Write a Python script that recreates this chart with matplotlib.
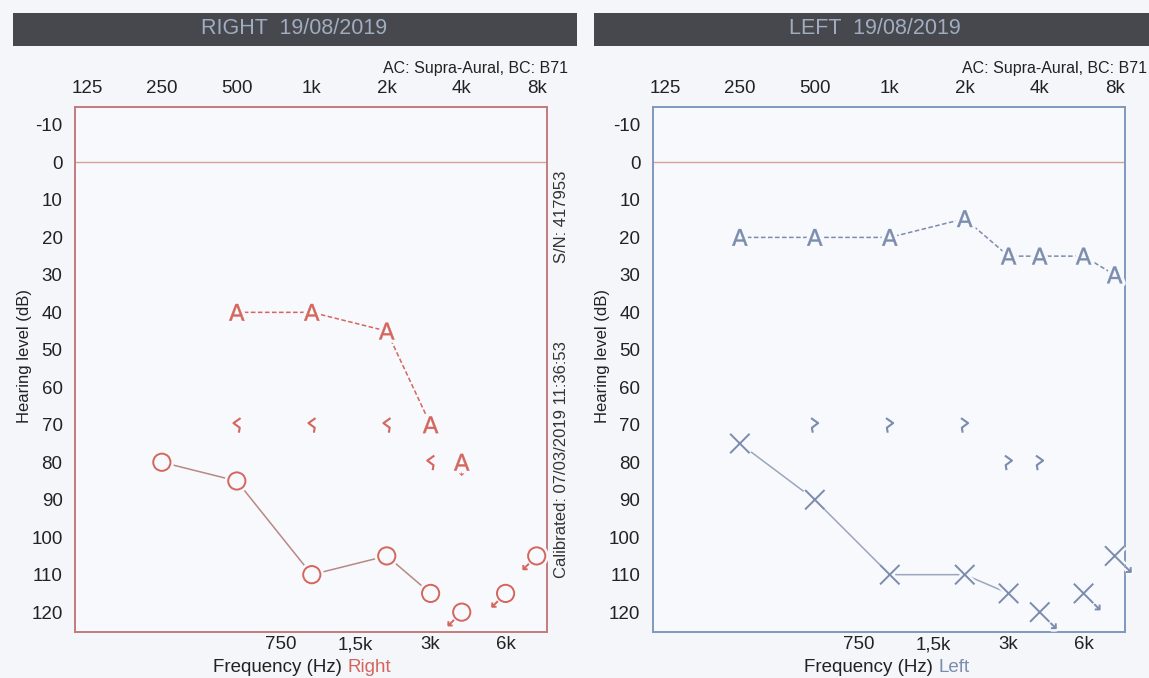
import numpy as np
import matplotlib
matplotlib.use("Agg")
import matplotlib.pyplot as plt
from matplotlib.path import Path
from matplotlib.markers import MarkerStyle
from matplotlib.patches import Rectangle
from matplotlib.textpath import TextPath
from matplotlib.font_manager import FontProperties
import matplotlib.patheffects as pe

plt.rcParams['font.family'] = ['Liberation Sans', 'DejaVu Sans']
plt.rcParams['axes.unicode_minus'] = False

# ---------------- data ----------------
top_ticks = [125, 250, 500, 1000, 2000, 4000, 8000]
top_labels = ["125", "250", "500", "1k", "2k", "4k", "8k"]
bottom_ticks = [750, 1500, 3000, 6000]
bottom_labels = ["750", "1,5k", "3k", "6k"]
y_ticks = [-10, 0, 10, 20, 30, 40, 50, 60, 70, 80, 90, 100, 110, 120]

# Right ear (red)
r_ac_f = [250, 500, 1000, 2000, 3000]
r_ac_db = [80, 85, 110, 105, 115]
r_ac_nr_f = [4000, 6000, 8000]
r_ac_nr_db = [120, 115, 105]
r_a_f = [500, 1000, 2000, 3000]
r_a_db = [40, 40, 45, 70]
r_a_nr_f = [4000]
r_a_nr_db = [80]
r_bc_f = [500, 1000, 2000, 3000]
r_bc_db = [70, 70, 70, 80]

# Left ear (blue)
l_ac_f = [250, 500, 1000, 2000, 3000]
l_ac_db = [75, 90, 110, 110, 115]
l_ac_nr_f = [4000, 6000, 8000]
l_ac_nr_db = [120, 115, 105]
l_a_f = [250, 500, 1000, 2000, 3000, 4000, 6000, 8000]
l_a_db = [20, 20, 20, 15, 25, 25, 25, 30]
l_bc_f = [500, 1000, 2000, 3000, 4000]
l_bc_db = [70, 70, 70, 80, 80]

# ---------------- style ----------------
BG = '#f4f6f9'
AXBG = '#f7f9fc'
RED = '#d4665e'
RED_LINE = '#b98883'
RED_BORDER = '#c27c7c'
BLUE = '#7b8cae'
BLUE_LINE = '#9aa6bd'
BLUE_BORDER = '#7f98bd'
ZERO_LINE = '#d6a396'
TXT = '#222222'

W, H = 1149, 678
fig = plt.figure(figsize=(W / 100, H / 100), dpi=100, facecolor=BG)


def fx(px):
    return px / W


def fy(py):
    return 1 - py / H


# ---------- custom marker paths ----------
def compound(*paths):
    return Path.make_compound_path(*paths)


def seg(pts):
    return Path(pts, [Path.MOVETO] + [Path.LINETO] * (len(pts) - 1))


def marker_ms(path, unit_pts):
    m = np.max(np.abs(path.vertices))
    return 2 * unit_pts * m


circle = Path.unit_circle()
arrow_ll = compound(seg([(-0.9, -0.9), (-1.55, -1.55)]),
                    seg([(-1.55, -1.05), (-1.55, -1.55), (-1.05, -1.55)]))
circle_nr = compound(circle, arrow_ll)

xpath = compound(seg([(-1, -1), (1, 1)]), seg([(-1, 1), (1, -1)]))
arrow_lr = compound(seg([(1.1, -1.1), (1.65, -1.65)]),
                    seg([(1.65, -1.15), (1.65, -1.65), (1.15, -1.65)]))
x_nr = compound(xpath, arrow_lr)

bc_right = seg([(0.45, 0.8), (-0.4, 0.2), (0.35, -0.35), (0.25, -0.95)])
bc_left = seg([(-0.45, 0.8), (0.4, 0.2), (-0.35, -0.35), (-0.25, -0.95)])

tp = TextPath((0, 0), 'A', size=1, prop=FontProperties(family='DejaVu Sans'))
v = tp.vertices.copy()
bb = tp.get_extents()
v[:, 0] -= (bb.x0 + bb.x1) / 2
v[:, 1] -= (bb.y0 + bb.y1) / 2
v = v * 2 / (bb.y1 - bb.y0)
a_path = Path(v, tp.codes)
a_nr = compound(a_path, seg([(0, -1.15), (0, -1.6)]),
                seg([(-0.3, -1.35), (0, -1.6), (0.3, -1.35)]))

halo = [pe.withStroke(linewidth=5, foreground=AXBG)]


def setup_axes(ax, border):
    ax.set_facecolor(AXBG)
    ax.set_xscale('log')
    ax.set_xlim(112, 8800)
    ax.set_ylim(125.3, -14.8)
    ax.xaxis.set_ticks_position('top')
    ax.set_xticks(top_ticks)
    ax.set_xticklabels(top_labels)
    ax.xaxis.set_minor_locator(matplotlib.ticker.NullLocator())
    ax.tick_params(axis='x', which='both', length=0, pad=7, labelsize=13.5,
                   labelcolor=TXT)
    ax.set_yticks(y_ticks)
    ax.tick_params(axis='y', length=0, pad=9, labelsize=13.5, labelcolor=TXT)
    sec = ax.secondary_xaxis('bottom')
    sec.set_xticks(bottom_ticks)
    sec.set_xticklabels(bottom_labels)
    sec.xaxis.set_minor_locator(matplotlib.ticker.NullLocator())
    sec.tick_params(length=0, pad=3, labelsize=13.5, labelcolor=TXT)
    for s in sec.spines.values():
        s.set_visible(False)
    for s in ax.spines.values():
        s.set_color(border)
        s.set_linewidth(1.4)
    ax.axhline(0, color=ZERO_LINE, lw=1.0, zorder=1)
    ax.set_ylabel('Hearing level (dB)', fontsize=12, color=TXT)
    ax.yaxis.set_label_coords(-0.092, 0.526)


def plot_series(ax, f, db, path, unit, color, lw=1.4, face='none'):
    ax.plot(f, db, linestyle='none', marker=MarkerStyle(path),
            markersize=marker_ms(path, unit), markeredgecolor=color,
            markerfacecolor=face, markeredgewidth=lw, zorder=5,
            path_effects=halo, clip_on=False)


# ---------------- LEFT PANEL (Right ear) ----------------
axL = fig.add_axes([fx(75), fy(632), fx(472), (632 - 107) / H])
setup_axes(axL, RED_BORDER)
axL.plot(r_ac_f, r_ac_db, color=RED_LINE, lw=1.1, zorder=3)
axL.plot(r_a_f, r_a_db, color=RED, lw=1.1, ls=(0, (3, 1.6)), zorder=3)
plot_series(axL, r_ac_f, r_ac_db, circle, 6.2, RED, face=AXBG)
plot_series(axL, r_ac_nr_f, r_ac_nr_db, circle_nr, 6.2, RED, face=AXBG)
plot_series(axL, r_a_f, r_a_db, a_path, 6.0, RED, lw=0.3, face=RED)
plot_series(axL, r_a_nr_f, r_a_nr_db, a_nr, 6.0, RED, lw=0.3, face=RED)
plot_series(axL, r_bc_f, r_bc_db, bc_right, 6.0, RED, lw=1.5)

# ---------------- RIGHT PANEL (Left ear) ----------------
axR = fig.add_axes([fx(653), fy(632), fx(472), (632 - 107) / H])
setup_axes(axR, BLUE_BORDER)
axR.plot(l_ac_f, l_ac_db, color=BLUE_LINE, lw=1.1, zorder=3)
axR.plot(l_a_f, l_a_db, color=BLUE, lw=1.1, ls=(0, (3, 1.6)), zorder=3)
plot_series(axR, l_ac_f, l_ac_db, xpath, 7.0, BLUE)
plot_series(axR, l_ac_nr_f, l_ac_nr_db, x_nr, 7.0, BLUE)
plot_series(axR, l_a_f, l_a_db, a_path, 6.0, BLUE, lw=0.3, face=BLUE)
plot_series(axR, l_bc_f, l_bc_db, bc_left, 6.0, BLUE, lw=1.5)

# ---------------- header bars & texts ----------------
fig.patches.append(Rectangle((fx(13), fy(46)), fx(564), (46 - 13) / H,
                             transform=fig.transFigure, facecolor='#46484d',
                             edgecolor='none', zorder=0))
fig.patches.append(Rectangle((fx(594), fy(46)), fx(560), (46 - 13) / H,
                             transform=fig.transFigure, facecolor='#46484d',
                             edgecolor='none', zorder=0))
fig.text(fx(294), fy(29), 'RIGHT  19/08/2019', color='#a0acc0', fontsize=15.5,
         ha='center', va='center')
fig.text(fx(875), fy(29), 'LEFT  19/08/2019', color='#a0acc0', fontsize=15.5,
         ha='center', va='center')

fig.text(fx(568), fy(68), 'AC: Supra-Aural, BC: B71', color=TXT, fontsize=11.5,
         ha='right', va='center')
fig.text(fx(1147), fy(68), 'AC: Supra-Aural, BC: B71', color=TXT, fontsize=11.5,
         ha='right', va='center')

fig.text(fx(561), fy(217), 'S/N: 417953', rotation=90, color='#333333',
         fontsize=12, ha='center', va='center')
fig.text(fx(561), fy(460), 'Calibrated: 07/03/2019 11:36:53', rotation=90,
         color='#333333', fontsize=12, ha='center', va='center')

t1 = fig.text(fx(213), fy(667), 'Frequency (Hz)', color=TXT, fontsize=13.5,
              ha='left', va='center')
axL.annotate('Right', xy=(1, 0), xycoords=t1, xytext=(4, 0),
             textcoords='offset points', color=RED, fontsize=13.5,
             ha='left', va='bottom', annotation_clip=False)
t2 = fig.text(fx(804), fy(667), 'Frequency (Hz)', color=TXT, fontsize=13.5,
              ha='left', va='center')
axR.annotate('Left', xy=(1, 0), xycoords=t2, xytext=(4, 0),
             textcoords='offset points', color=BLUE, fontsize=13.5,
             ha='left', va='bottom', annotation_clip=False)

fig.savefig('out.png', dpi=100, facecolor=BG)
